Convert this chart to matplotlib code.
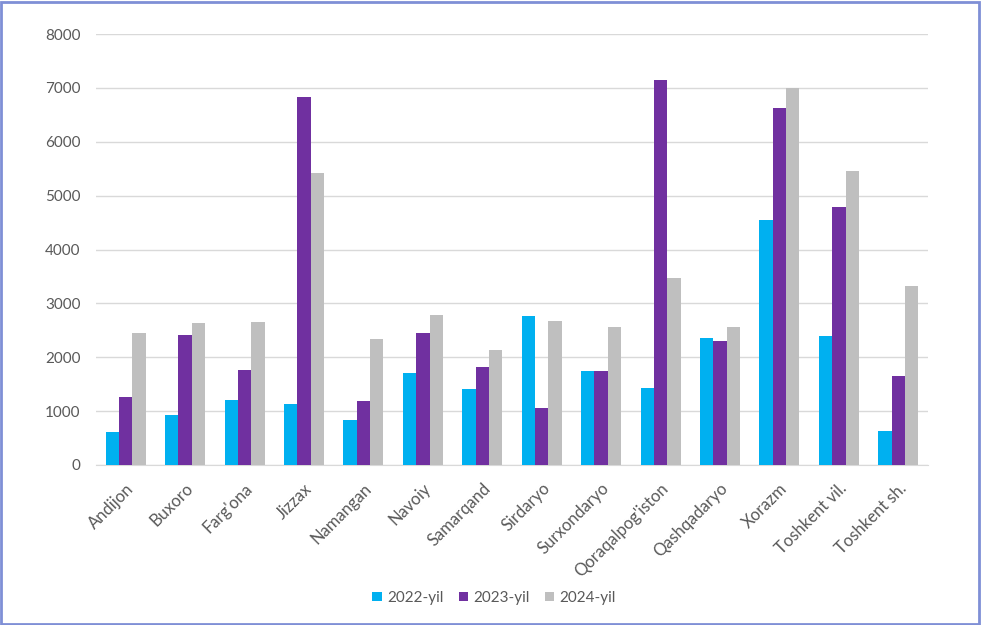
import matplotlib

matplotlib.use("Agg")
import matplotlib.pyplot as plt
import numpy as np
from matplotlib.patches import Rectangle

regions = [
    "Andijon", "Buxoro", "Farg'ona", "Jizzax", "Namangan", "Navoiy", "Samarqand",
    "Sirdaryo", "Surxondaryo", "Qoraqalpog'iston", "Qashqadaryo", "Xorazm",
    "Toshkent vil.", "Toshkent sh.",
]
years = ["2022-yil", "2023-yil", "2024-yil"]
values_2022 = [610, 925, 1205, 1135, 835, 1710, 1410, 2770, 1745, 1430, 2355, 4550, 2395, 625]
values_2023 = [1265, 2415, 1765, 6835, 1190, 2445, 1820, 1060, 1745, 7150, 2305, 6630, 4785, 1655]
values_2024 = [2445, 2630, 2655, 5420, 2340, 2785, 2135, 2675, 2565, 3475, 2565, 6990, 5460, 3325]
y_ticks = [0, 1000, 2000, 3000, 4000, 5000, 6000, 7000, 8000]

colors = ["#00B0F0", "#7030A0", "#BFBFBF"]
text_color = "#595959"

plt.rcParams["font.family"] = ["Lato", "DejaVu Sans"]

W, H = 981, 625
fig = plt.figure(figsize=(W / 100, H / 100), dpi=100)
ax = fig.add_axes([96 / W, (H - 465) / H, (928 - 96) / W, (465 - 34) / H])

x = np.arange(len(regions))
width = 0.225
for i, (vals, label) in enumerate(zip([values_2022, values_2023, values_2024], years)):
    ax.bar(x + (i - 1) * width, vals, width, color=colors[i], label=label, zorder=3)

ax.set_xlim(-0.5, len(regions) - 0.5)
ax.set_ylim(0, 8000)
ax.set_yticks(y_ticks)
ax.set_yticklabels([str(t) for t in y_ticks], fontsize=11, color=text_color)
ax.yaxis.grid(True, color="#D9D9D9", linewidth=1, zorder=0)
ax.tick_params(axis="y", length=0, pad=11)
ax.tick_params(axis="x", length=0, pad=11)
ax.set_xticks(x)
ax.set_xticklabels(regions, rotation=45, ha="right", va="top", rotation_mode="anchor",
                   fontsize=12, color=text_color)
for side in ["top", "right", "left"]:
    ax.spines[side].set_visible(False)
ax.spines["bottom"].set_color("#D9D9D9")

leg = fig.legend(loc="center", bbox_to_anchor=(494 / W, 1 - 598 / H), ncol=3, frameon=False,
                 fontsize=11, handlelength=0.6, handleheight=0.6, handletextpad=0.35,
                 columnspacing=1.0)
for t in leg.get_texts():
    t.set_color(text_color)

fig.patches.append(Rectangle((1 / W, 1 / H), (W - 3) / W, (H - 3) / H, transform=fig.transFigure,
                             fill=False, edgecolor="#7F8FD6", linewidth=2))

fig.savefig("out.png", dpi=100)
